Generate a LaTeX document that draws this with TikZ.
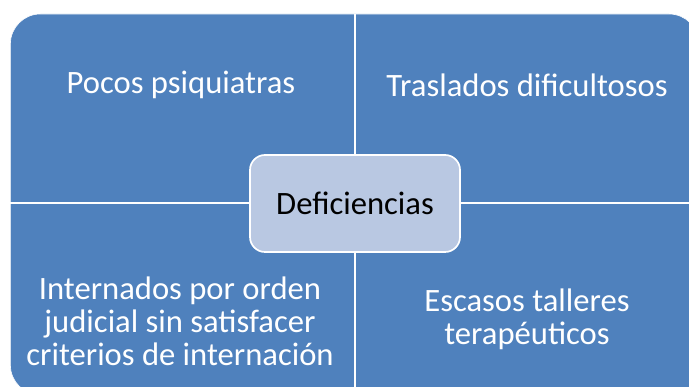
\documentclass[tikz,border=0pt]{standalone}
\usepackage{fontspec}
\setmainfont{Carlito}

\begin{document}
\begin{tikzpicture}[thick]

  % Colors
  \definecolor{quadblue}{RGB}{79,129,189}
  \definecolor{hubblue}{RGB}{185,200,226}

  % Styles
  \tikzset{
    quadtext/.style={text=white, align=center, inner sep=0pt, font=\fontsize{23.2}{23.6}\selectfont},
    hubbox/.style={draw=white, line width=1.2pt, fill=hubblue, rounded corners=0.375cm,
      minimum width=5.25cm, minimum height=2.425cm, text=black, font=\fontsize{23.2}{23.6}\selectfont},
    divider/.style={draw=white, line width=1.4pt}
  }

  \useasboundingbox (0,0) rectangle (17.225,9.675);
  \clip (0,0) rectangle (17.225,9.675);

  % Matrix background
  \filldraw[fill=quadblue, draw=white, thin, rounded corners=0.75cm] (0.26,-0.2) rectangle (17.475,9.325);

  % Dividers between the quadrants
  \coordinate (divN) at (8.875,9.325);
  \coordinate (divS) at (8.875,-0.2);
  \coordinate (divW) at (0.26,4.6);
  \coordinate (divE) at (17.475,4.6);
  \draw[divider] (divN) -- (divS);
  \draw[divider] (divW) -- (divE);

  % Quadrant texts
  \node[quadtext] (psiq) at (4.525,7.55) {Pocos psiquiatras};
  \node[quadtext] (trasl) at (13.175,7.55) {Traslados dificultosos};
  \node[quadtext] (intern) at (4.5,1.65) {Internados por orden\\judicial sin satisfacer\\criterios de internación};
  \node[quadtext] (talleres) at (13.175,1.7) {Escasos talleres\\terapéuticos};

  % Central box
  \node[hubbox] (defic) at (8.875,4.5875) {Deficiencias};

\end{tikzpicture}
\end{document}
